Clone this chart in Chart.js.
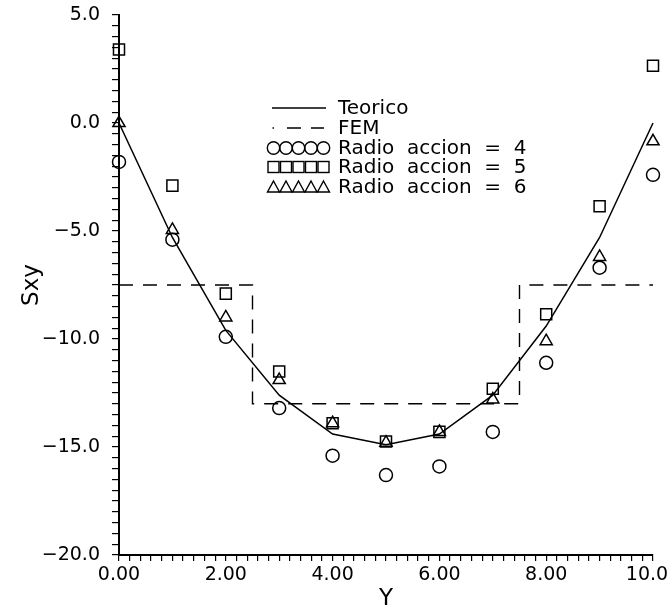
<!DOCTYPE html>
<html>
<head>
<meta charset="utf-8">
<script src="https://cdn.jsdelivr.net/npm/chart.js@4"></script>
<style>
  html, body { margin: 0; padding: 0; background: #fff; }
  #wrap { width: 668px; height: 610px; }
</style>
</head>
<body>
<div id="wrap"><canvas id="c" width="668" height="610"></canvas></div>
<script>
// ---- data ----
const yPositions = [0, 1, 2, 3, 4, 5, 6, 7, 8, 9, 10];
const teorico   = [0, -5.3, -9.6, -12.6, -14.4, -14.9, -14.4, -12.6, -9.4, -5.3, 0];
const femX      = [0, 2.5, 2.5, 7.5, 7.5, 10];
const femY      = [-7.5, -7.5, -13.0, -13.0, -7.5, -7.5];
const radio4    = [-1.8, -5.4, -9.9, -13.2, -15.4, -16.3, -15.9, -14.3, -11.1, -6.7, -2.4];
const radio5    = [3.4, -2.9, -7.9, -11.5, -13.9, -14.75, -14.3, -12.3, -8.85, -3.85, 2.65];
const radio6    = [0.0, -4.95, -9.0, -11.9, -13.9, -14.8, -14.3, -12.8, -10.1, -6.2, -0.85];
const legendLabels = ['Teorico', 'FEM', 'Radio  accion  =  4', 'Radio  accion  =  5', 'Radio  accion  =  6'];
const xTickStep = 0.2, xLabelEvery = 2;
const yTickStep = 0.5, yLabelEvery = 5;

const toXY = (xs, ys) => xs.map((x, i) => ({ x: x, y: ys[i] }));

const FONT = '"DejaVu Sans", "Liberation Sans", sans-serif';

// custom legend drawn inside the plot
const legendPlugin = {
  id: 'innerLegend',
  afterDatasetsDraw(chart) {
    const ctx = chart.ctx;
    ctx.save();
    ctx.strokeStyle = '#000';
    ctx.fillStyle = '#000';
    ctx.lineWidth = 1.4;
    const rows = [108, 128, 148, 167, 187];
    const centers = [273.5, 286, 298.5, 311, 323.5];
    // Teorico
    ctx.beginPath(); ctx.moveTo(272, rows[0]); ctx.lineTo(326, rows[0]); ctx.stroke();
    // FEM
    ctx.beginPath();
    ctx.moveTo(272.5, rows[1]); ctx.lineTo(274, rows[1]);
    ctx.moveTo(287, rows[1]); ctx.lineTo(301, rows[1]);
    ctx.moveTo(311, rows[1]); ctx.lineTo(324, rows[1]);
    ctx.stroke();
    // circles
    centers.forEach(cx => { ctx.beginPath(); ctx.arc(cx, rows[2], 6.2, 0, Math.PI * 2); ctx.stroke(); });
    // squares
    centers.forEach(cx => { ctx.strokeRect(cx - 5.5, rows[3] - 5.5, 11, 11); });
    // triangles
    centers.forEach(cx => {
      ctx.beginPath();
      ctx.moveTo(cx, rows[4] - 6);
      ctx.lineTo(cx + 6, rows[4] + 5);
      ctx.lineTo(cx - 6, rows[4] + 5);
      ctx.closePath(); ctx.stroke();
    });
    ctx.font = '20px ' + FONT;
    ctx.textBaseline = 'middle';
    ctx.textAlign = 'left';
    legendLabels.forEach((t, i) => ctx.fillText(t, 338, rows[i] + 1));
    ctx.restore();
  }
};

const markerDs = (label, ys, style, radius) => ({
  label: label,
  data: toXY(yPositions, ys),
  showLine: false,
  pointStyle: style,
  pointRadius: radius,
  pointHoverRadius: radius,
  pointBorderWidth: 1.5,
  borderColor: '#000',
  backgroundColor: 'rgba(0,0,0,0)',
  clip: false
});

const fmtY = v => {
  const s = Math.abs(v).toFixed(1);
  return v < 0 ? '\u2212' + s : s;
};

new Chart(document.getElementById('c'), {
  type: 'scatter',
  data: {
    datasets: [
      {
        label: 'Teorico', data: toXY(yPositions, teorico), showLine: true,
        borderColor: '#000', borderWidth: 1.5, pointRadius: 0, tension: 0, fill: false, clip: false
      },
      {
        label: 'FEM', data: toXY(femX, femY), showLine: true,
        borderColor: '#000', borderWidth: 1.4, borderDash: [14, 10], pointRadius: 0, tension: 0, fill: false, clip: false
      },
      markerDs('Radio accion = 4', radio4, 'circle', 6.5),
      markerDs('Radio accion = 5', radio5, 'rect', 7.8),
      markerDs('Radio accion = 6', radio6, 'triangle', 7)
    ]
  },
  options: {
    responsive: false,
    animation: false,
    devicePixelRatio: 1,
    layout: { padding: { top: 15, right: 15, left: 0, bottom: 0 } },
    plugins: { legend: { display: false }, tooltip: { enabled: false } },
    scales: {
      x: {
        type: 'linear', min: 0, max: 10,
        ticks: {
          stepSize: xTickStep, autoSkip: false, maxRotation: 0, minRotation: 0,
          color: '#000', font: { family: FONT, size: 19 }, padding: 3,
          callback: v => Math.abs(v / xLabelEvery - Math.round(v / xLabelEvery)) < 1e-6 ? Number(v).toFixed(2) : ''
        },
        grid: { drawOnChartArea: false, drawTicks: true, tickLength: 6, color: '#000', lineWidth: 1.2 },
        border: { display: true, color: '#000', width: 2 },
        title: { display: true, text: 'Y', color: '#000', font: { family: FONT, size: 23 }, padding: { top: 0, bottom: -3 } },
        afterFit: s => { s.height = 55; s.paddingLeft = 0; s.paddingRight = 0; }
      },
      y: {
        type: 'linear', min: -20, max: 5,
        ticks: {
          stepSize: yTickStep, autoSkip: false,
          color: '#000', font: { family: FONT, size: 19 }, padding: 12,
          callback: v => Math.abs(v / yLabelEvery - Math.round(v / yLabelEvery)) < 1e-6 ? fmtY(v) : ''
        },
        grid: { drawOnChartArea: false, drawTicks: true, tickLength: 7, color: '#000', lineWidth: 1.2 },
        border: { display: true, color: '#000', width: 2 },
        title: { display: true, text: 'Sxy', color: '#000', font: { family: FONT, size: 23 }, padding: { top: 18, bottom: 0 } },
        afterFit: s => { s.width = 119; s.paddingTop = 0; s.paddingBottom = 0; }
      }
    }
  },
  plugins: [legendPlugin]
});
</script>
</body>
</html>
